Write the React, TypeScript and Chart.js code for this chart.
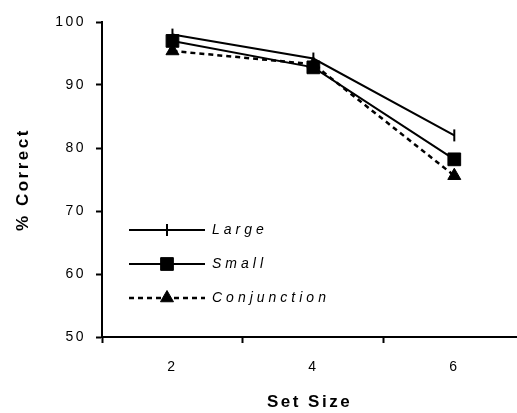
import React, { useEffect, useRef } from 'react';
import { Chart, registerables } from 'chart.js';
import { drawPoint } from 'chart.js/helpers';

Chart.register(...registerables);

// ---- data ----
const setSizes = [2, 4, 6];
const xTickMarks = [1, 3, 5];
const largeValues = [98, 94.2, 82];
const smallValues = [97, 92.8, 78.2];
const conjunctionValues = [95.4, 93.3, 75.6];
const seriesNames = ['Large', 'Small', 'Conjunction'];
const yMin = 50;
const yMax = 100;
const yStep = 10;

const FONT = "'Liberation Sans', Arial, Helvetica, sans-serif";

const toPoints = (vals: number[]) => vals.map((v, i) => ({ x: setSizes[i], y: v }));

const spacingPlugin = {
  id: 'spacing',
  beforeDraw(chart: any) {
    chart.ctx.letterSpacing = '2.5px';
  },
};

const wrapTitle = (s: any, ls: string) => {
  if (s.__wrapped) return;
  const orig = s.drawTitle;
  s.drawTitle = function (...a: any[]) {
    const c = this.ctx;
    const prev = c.letterSpacing;
    c.letterSpacing = ls;
    orig.apply(this, a);
    c.letterSpacing = prev;
  };
  s.__wrapped = true;
};

const lineLegend = {
  id: 'lineLegend',
  afterDraw(chart: any, _args: any, opts: any) {
    const ctx = chart.ctx;
    ctx.save();
    chart.data.datasets.forEach((ds: any, i: number) => {
      const y = opts.y0 + i * opts.rowGap;
      ctx.beginPath();
      ctx.setLineDash(ds.borderDash || []);
      ctx.lineWidth = ds.borderWidth;
      ctx.strokeStyle = ds.borderColor;
      ctx.moveTo(opts.x0, y);
      ctx.lineTo(opts.x1, y);
      ctx.stroke();
      ctx.setLineDash([]);
      ctx.fillStyle = ds.pointBackgroundColor;
      ctx.strokeStyle = ds.pointBorderColor;
      ctx.lineWidth = ds.pointBorderWidth;
      drawPoint(
        ctx,
        {
          pointStyle: ds.pointStyle,
          rotation: ds.pointRotation || 0,
          radius: ds.pointRadius,
          borderWidth: ds.pointBorderWidth,
        } as any,
        opts.xm,
        y
      );
      ctx.font = `italic 14px ${FONT}`;
      ctx.letterSpacing = '4px';
      ctx.fillStyle = '#000';
      ctx.textBaseline = 'middle';
      ctx.textAlign = 'left';
      ctx.fillText(ds.label, opts.textX, y);
    });
    ctx.restore();
  },
};

export default function App() {
  const ref = useRef<HTMLCanvasElement>(null);

  useEffect(() => {
    document.body.style.margin = '0';
    const canvas = ref.current;
    if (!canvas) return;
    const common = {
      borderColor: '#000',
      borderWidth: 2,
      pointBackgroundColor: '#000',
      pointBorderColor: '#000',
      fill: false,
      tension: 0,
    };
    const chart = new Chart(canvas, {
      type: 'line',
      data: {
        datasets: [
          {
            ...common,
            label: seriesNames[0],
            data: toPoints(largeValues),
            pointStyle: 'line',
            pointRotation: 90,
            pointRadius: 6,
            pointBorderWidth: 2,
          },
          {
            ...common,
            label: seriesNames[1],
            data: toPoints(smallValues),
            pointStyle: 'rect',
            pointRadius: 9,
            pointBorderWidth: 1,
          },
          {
            ...common,
            label: seriesNames[2],
            data: toPoints(conjunctionValues),
            borderWidth: 2.5,
            borderDash: [5, 4],
            pointStyle: 'triangle',
            pointRadius: 7.5,
            pointBorderWidth: 1,
          },
        ] as any,
      },
      options: {
        animation: false,
        responsive: true,
        maintainAspectRatio: false,
        layout: { autoPadding: false, padding: { top: 22, right: 0, left: 0, bottom: 0 } },
        plugins: {
          legend: { display: false },
          tooltip: { enabled: false },
          lineLegend: { x0: 129, x1: 205, xm: 167, textX: 212, y0: 230, rowGap: 34 },
        } as any,
        scales: {
          x: {
            type: 'linear',
            min: 1,
            max: 6.89,
            afterFit: (s: any) => {
              s.height = 76;
              s.paddingLeft = 0;
              s.paddingRight = 0;
              wrapTitle(s, '2.5px');
            },
            afterBuildTicks: (s: any) => {
              s.ticks = [...xTickMarks, ...setSizes]
                .sort((a, b) => a - b)
                .map((v) => ({ value: v }));
            },
            ticks: {
              autoSkip: false,
              maxRotation: 0,
              color: '#000',
              font: { family: FONT, size: 14 },
              padding: 16,
              callback: (v: any) => (setSizes.includes(v) ? String(v) : ''),
            },
            grid: {
              drawOnChartArea: false,
              tickLength: 6,
              tickWidth: 2,
              tickColor: (c: any) =>
                c.tick && xTickMarks.includes(c.tick.value) ? '#000' : 'rgba(0,0,0,0)',
            },
            border: { color: '#000', width: 2 },
            title: {
              display: true,
              text: 'Set Size',
              color: '#000',
              font: { family: FONT, size: 17, weight: 'bold' },
              padding: { top: 0, bottom: 0 },
            },
          },
          y: {
            min: yMin,
            max: yMax,
            afterFit: (s: any) => {
              s.width = 102;
              s.paddingTop = 0;
              s.paddingBottom = 0;
              wrapTitle(s, '2.5px');
            },
            ticks: {
              stepSize: yStep,
              color: '#000',
              font: { family: FONT, size: 14 },
              padding: 10,
            },
            grid: {
              drawOnChartArea: false,
              tickLength: 6,
              tickWidth: 2,
              tickColor: '#000',
            },
            border: { color: '#000', width: 2 },
            title: {
              display: true,
              text: '% Correct',
              color: '#000',
              font: { family: FONT, size: 17, weight: 'bold' },
              padding: { top: 13, bottom: 0 },
            },
          },
        },
      } as any,
      plugins: [spacingPlugin, lineLegend],
    });
    return () => chart.destroy();
  }, []);

  return (
    <div style={{ width: 517, height: 413, position: 'relative' }}>
      <canvas ref={ref} />
    </div>
  );
}
